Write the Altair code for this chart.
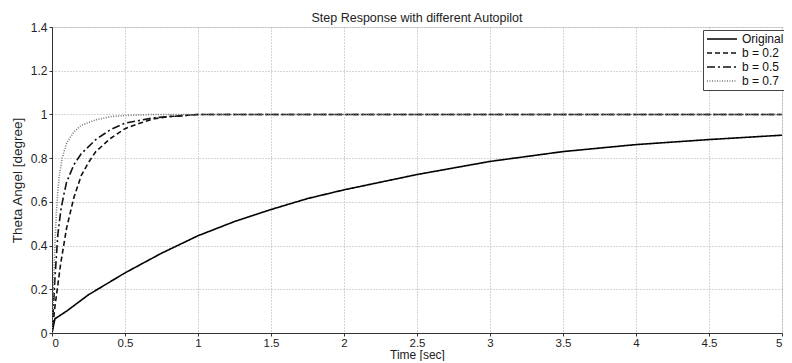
import altair as alt
import pandas as pd

series_names = ["Original", "b = 0.2", "b = 0.5", "b = 0.7"]

t_orig = [0, 0.02, 0.1, 0.25, 0.5, 0.75, 1.0, 1.25, 1.5, 1.75, 2.0, 2.5, 3.0, 3.5, 4.0, 4.5, 5.0]
y_orig = [0, 0.065, 0.10, 0.175, 0.275, 0.365, 0.445, 0.51, 0.565, 0.615, 0.655, 0.725, 0.785, 0.83, 0.862, 0.885, 0.905]

t_b02 = [0, 0.01, 0.02, 0.04, 0.06, 0.1, 0.15, 0.2, 0.25, 0.3, 0.4, 0.5, 0.6, 0.7, 0.8, 1.0, 5.0]
y_b02 = [0, 0.06, 0.12, 0.22, 0.32, 0.48, 0.62, 0.72, 0.78, 0.83, 0.89, 0.935, 0.96, 0.98, 0.99, 1.0, 1.0]

t_b05 = [0, 0.01, 0.02, 0.04, 0.06, 0.08, 0.1, 0.15, 0.2, 0.3, 0.4, 0.5, 0.7, 1.0, 5.0]
y_b05 = [0, 0.12, 0.25, 0.45, 0.56, 0.63, 0.69, 0.77, 0.82, 0.885, 0.93, 0.96, 0.985, 1.0, 1.0]

t_b07 = [0, 0.01, 0.02, 0.03, 0.04, 0.05, 0.07, 0.1, 0.15, 0.2, 0.3, 0.4, 0.5, 0.7, 1.0, 5.0]
y_b07 = [0, 0.2, 0.4, 0.55, 0.65, 0.72, 0.8, 0.87, 0.92, 0.95, 0.975, 0.99, 0.995, 1.0, 1.0, 1.0]

x_ticks = [0, 0.5, 1, 1.5, 2, 2.5, 3, 3.5, 4, 4.5, 5]
y_ticks = [0, 0.2, 0.4, 0.6, 0.8, 1.0, 1.2, 1.4]

rows = []
for name, ts, ys in zip(series_names, [t_orig, t_b02, t_b05, t_b07], [y_orig, y_b02, y_b05, y_b07]):
    for i, (t, y) in enumerate(zip(ts, ys)):
        rows.append({"series": name, "t": t, "y": y, "order": i})
df = pd.DataFrame(rows)

font = "Liberation Sans"

common_axis = dict(grid=True, gridDash=[1, 2], gridColor="#aaaaaa", domainColor="#333333",
                   tickColor="#333333", tickSize=3, labelFont=font,
                   titleFont=font, titleFontWeight="normal", labelColor="#222222",
                   titleColor="#222222", format=".1~f")

chart = alt.Chart(df).mark_line(strokeWidth=1.6, clip=True).encode(
    x=alt.X("t:Q", title="Time [sec]",
            scale=alt.Scale(domain=[0, 5], nice=False, zero=False),
            axis=alt.Axis(values=x_ticks, labelFontSize=11.5, labelPadding=1,
                          titleFontSize=12, titlePadding=1, **common_axis)),
    y=alt.Y("y:Q", title="Theta Angel [degree]",
            scale=alt.Scale(domain=[0, 1.4], nice=False),
            axis=alt.Axis(values=y_ticks, labelFontSize=12, labelPadding=2,
                          titleFontSize=13.5, titlePadding=6, **common_axis)),
    color=alt.Color("series:N", title=None,
                    scale=alt.Scale(domain=series_names, range=["#000000", "#111111", "#111111", "#777777"]),
                    legend=alt.Legend(orient="none", legendX=651, legendY=3,
                                      symbolType="M-1,0H5", symbolSize=100, symbolStrokeWidth=1.6,
                                      labelFontSize=12, labelFont=font, labelColor="#111111",
                                      fillColor="white", strokeColor="#444444", padding=3,
                                      rowPadding=2, labelOffset=24, offset=0)),
    strokeDash=alt.StrokeDash("series:N", title=None,
                              scale=alt.Scale(domain=series_names,
                                              range=[[1, 0], [5, 3], [8, 3, 2, 3], [1, 1.5]])),
    order="order:O",
).properties(
    width=730, height=306,
    title=alt.TitleParams("Step Response with different Autopilot", fontSize=12.5, fontWeight="normal",
                          font=font, color="#222222", offset=0, dy=3),
    padding={"left": 44, "top": 19, "right": 2, "bottom": 28},
    autosize="none",
).configure_view(stroke="#333333", strokeWidth=1).configure(background="white")

chart.save("out.html", embed_options={"renderer": "svg", "actions": False})
